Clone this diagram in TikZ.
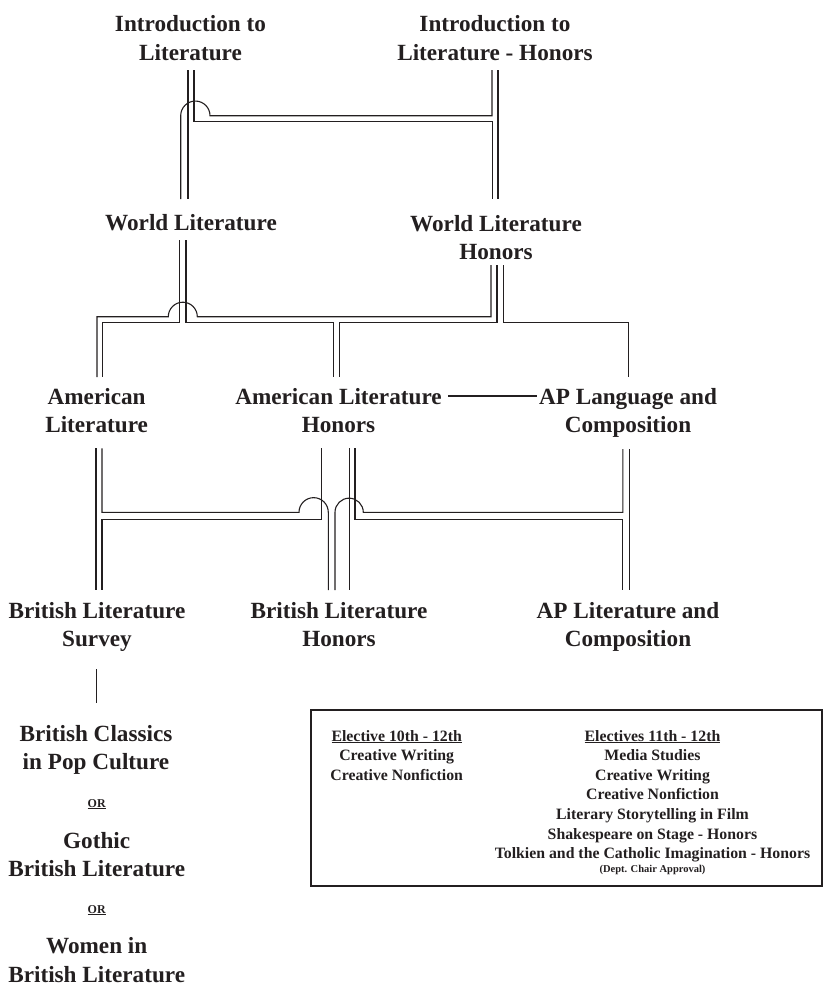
\documentclass[tikz,border=0pt]{standalone}
\usepackage{fontspec}
\setmainfont{Liberation Serif}
\definecolor{ink}{RGB}{35,31,32}
\tikzset{
  conn/.style={draw=ink, line width=1.1pt, line join=miter},
  lab/.style={anchor=base, inner sep=0pt, text=ink, font=\fontsize{23.2}{28.5}\selectfont\bfseries},
  elect/.style={anchor=base, inner sep=0pt, text=ink, font=\fontsize{15.8}{19.6}\selectfont\bfseries},
  orlab/.style={anchor=base, inner sep=0pt, text=ink, font=\fontsize{12}{14}\selectfont\bfseries},
  boxframe/.style={draw=ink, line width=1.8pt, inner sep=0pt},
}
\newcommand{\twol}[1]{\begin{tabular}[t]{@{}c@{}}#1\end{tabular}}
\begin{document}
\begin{tikzpicture}[x=1pt,y=-1pt]
\useasboundingbox (0,0) rectangle (824,986);

% course nodes
\node[lab] (intro)   at (190.5,31.7) {\twol{Introduction to\\Literature}};
\node[lab] (introh)  at (495,31.7)   {\twol{Introduction to\\Literature - Honors}};
\node[lab] (world)   at (191,230)    {World Literature};
\node[lab] (worldh)  at (496,231)    {\twol{World Literature\\Honors}};
\node[lab] (amer)    at (96.6,404.3) {\twol{American\\Literature}};
\node[lab] (amerh)   at (338.5,404.3){\twol{American Literature\\Honors}};
\node[lab] (aplang)  at (628,404)    {\twol{AP Language and\\Composition}};
\node[lab] (brit)    at (97,618)     {\twol{British Literature\\Survey}};
\node[lab] (brith)   at (339,618)    {\twol{British Literature\\Honors}};
\node[lab] (aplit)   at (628,618)    {\twol{AP Literature and\\Composition}};
\node[lab] (classics) at (96,741)    {\twol{British Classics\\in Pop Culture}};
\node[orlab] (or1)   at (96.7,807)   {\underline{OR}};
\node[lab] (gothic)  at (96.7,848.3) {\twol{Gothic\\British Literature}};
\node[orlab] (or2)   at (96.7,913)   {\underline{OR}};
\node[lab, text depth=30pt] (women) at (96.7,953.5) {\twol{Women in\\British Literature}};

% connector end points
\coordinate (iL1) at (188,70);   \coordinate (iL2) at (194,70);
\coordinate (iH1) at (492,70);   \coordinate (iH2) at (498,70);
\coordinate (wTop1) at (180.7,199); \coordinate (wTop2) at (188,199);
\coordinate (whTop1) at (492.5,199); \coordinate (whTop2) at (498,199);
\coordinate (wB1) at (179.5,240); \coordinate (wB2) at (186,240);
\coordinate (whB1) at (491,265); \coordinate (whB2) at (497,265); \coordinate (whB3) at (503.3,265);
\coordinate (aT1) at (97,377);   \coordinate (aT2) at (102.5,377);
\coordinate (ahT1) at (333.3,377); \coordinate (ahT2) at (339.3,377);
\coordinate (apT) at (628.3,377);
\coordinate (aB1) at (96,448.3); \coordinate (aB2) at (102,448.3);
\coordinate (ahB1) at (321.5,448.3); \coordinate (ahB2) at (349.5,448.3); \coordinate (ahB3) at (355,448.3);
\coordinate (apB1) at (622.8,449); \coordinate (apB2) at (629.3,449);
\coordinate (bT1) at (96,590);   \coordinate (bT2) at (102,590);
\coordinate (bhT1) at (328.3,590); \coordinate (bhT2) at (335,590); \coordinate (bhT3) at (349.5,590);
\coordinate (alT1) at (622.8,590); \coordinate (alT2) at (629.3,590);
\coordinate (bsB) at (96.7,669); \coordinate (bcT) at (96.7,703);
\coordinate (ahE) at (448.3,396); \coordinate (apW) at (536.7,396);

% Introduction -> World
\draw[conn] (iL1) -- (wTop2);
\draw[conn] (iL2) -- (194,121.7) -- (492.5,121.7) -- (whTop1);
\draw[conn] (iH1) -- (492,115.7) -- (210,115.7) arc[start angle=0,end angle=180,radius=14.65pt] -- (wTop1);
\draw[conn] (iH2) -- (whTop2);

% World -> American / AP Language
\draw[conn] (wB1) -- (179.5,322.7) -- (102.5,322.7) -- (aT2);
\draw[conn] (wB2) -- (186,322.7) -- (333.3,322.7) -- (ahT1);
\draw[conn] (whB1) -- (491,316.7) -- (197.3,316.7) arc[start angle=0,end angle=180,radius=14.5pt] -- (97,316.7) -- (aT1);
\draw[conn] (whB2) -- (497,322.7) -- (339.3,322.7) -- (ahT2);
\draw[conn] (whB3) -- (503.3,322.7) -- (628.3,322.7) -- (apT);

% American Literature Honors -- AP Language
\draw[conn] (ahE) -- (apW);

% American / AP Language -> British / AP Literature
\draw[conn] (aB1) -- (bT1);
\draw[conn] (aB2) -- (102,512.3) -- (299,512.3) arc[start angle=180,end angle=0,radius=14.65pt] -- (bhT1);
\draw[conn] (ahB1) -- (321.5,519.3) -- (102,519.3) -- (bT2);
\draw[conn] (ahB2) -- (bhT3);
\draw[conn] (ahB3) -- (355,519.3) -- (622.8,519.3) -- (alT1);
\draw[conn] (apB1) -- (622.8,512.3) -- (363.3,512.3) arc[start angle=0,end angle=180,radius=14.15pt] -- (bhT2);
\draw[conn] (apB2) -- (alT2);

% British Literature Survey -> British Classics
\draw[conn] (bsB) -- (bcT);

% electives box
\node[boxframe, minimum width=511pt, minimum height=176pt] (electbox) at (566.5,798) {};
\node[elect] (el1) at (396.7,741) {\twol{\underline{Elective 10th - 12th}\\Creative Writing\\Creative Nonfiction}};
\node[elect] (el2) at (652.5,741) {\twol{\underline{Electives 11th - 12th}\\Media Studies\\Creative Writing\\Creative Nonfiction\\Literary Storytelling in Film\\Shakespeare on Stage - Honors\\Tolkien and the Catholic Imagination - Honors\\[-6pt]{\fontsize{10.5}{12}\selectfont (Dept. Chair Approval)}}};
\end{tikzpicture}
\end{document}
